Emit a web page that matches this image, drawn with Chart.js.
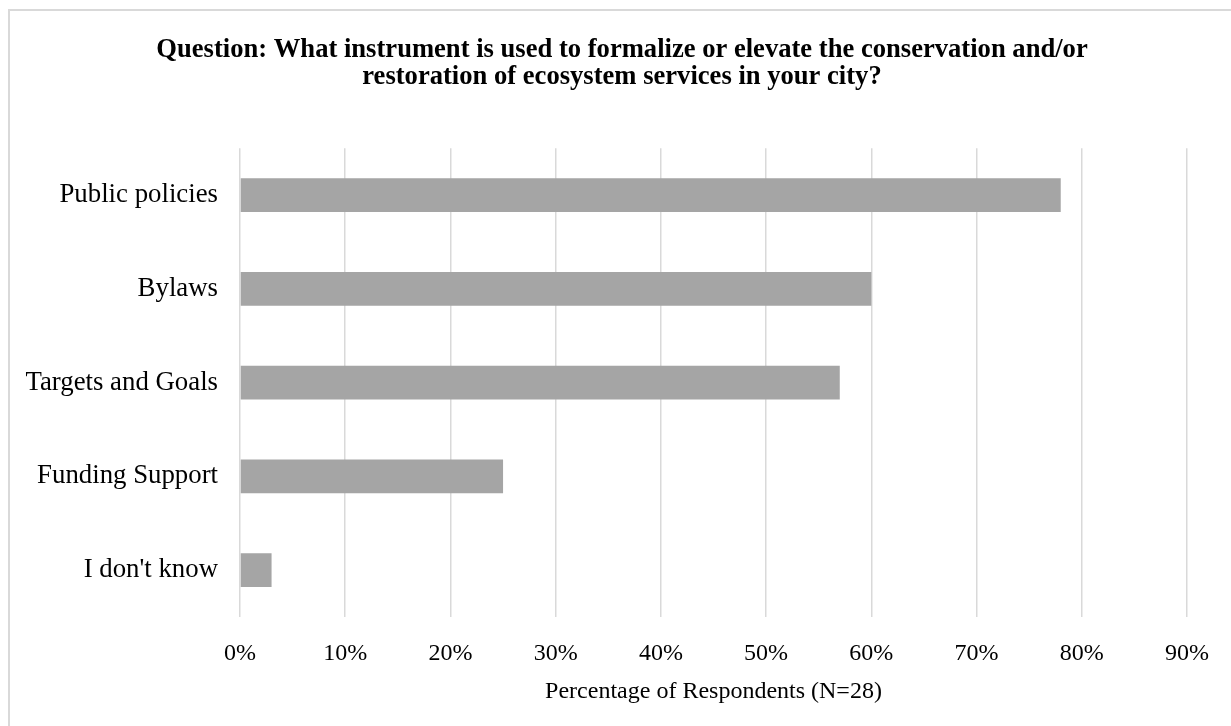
<!DOCTYPE html>
<html>
<head>
<meta charset="utf-8">
<script src="https://cdn.jsdelivr.net/npm/chart.js@4"></script>
<style>
    body { margin: 0; background: #fff; overflow: hidden; }
    #frame { position: absolute; left: 8px; top: 9px; width: 1300px; height: 800px; border: 2px solid #d9d9d9; }
    #wrap { position: absolute; left: 0; top: 0; width: 1231px; height: 726px; }
</style>
</head>
<body>
<div id="frame"></div>
<div id="wrap"><canvas id="surveyChart"></canvas></div>
<script>
const categories = ["Public policies", "Bylaws", "Targets and Goals", "Funding Support", "I don't know"];
const percentages = [78, 60, 57, 25, 3];
const tickValues = [0, 10, 20, 30, 40, 50, 60, 70, 80, 90];

const serif = "'Liberation Serif', 'Times New Roman', serif";

const ctx = document.getElementById('surveyChart').getContext('2d');
const surveyChart = new Chart(ctx, {
    type: 'bar',
    data: {
        labels: categories,
        datasets: [{
            data: percentages,
            backgroundColor: '#a5a5a5',
            barPercentage: 0.72,
            categoryPercentage: 0.5
        }]
    },
    options: {
        indexAxis: 'y',
        responsive: true,
        maintainAspectRatio: false,
        animation: false,
        layout: { padding: { left: 13, right: 0, top: 0, bottom: 0 } },
        plugins: {
            legend: { display: false },
            tooltip: { enabled: false },
            title: {
                display: true,
                text: ["Question: What instrument is used to formalize or elevate the conservation and/or",
                       "restoration of ecosystem services in your city?"],
                color: '#000',
                font: { family: serif, size: 26.6, weight: 'bold', lineHeight: 1.0 },
                padding: { top: 37, bottom: 58 }
            }
        },
        scales: {
            x: {
                min: 0,
                max: 90,
                afterBuildTicks: scale => { scale.ticks = tickValues.map(v => ({ value: v })); },
                afterFit: scale => { scale.height = 109; scale.paddingRight = 44; },
                grid: { color: '#d9d9d9', lineWidth: 1.5, drawTicks: false },
                border: { display: false },
                ticks: {
                    padding: 22,
                    color: '#000',
                    font: { family: serif, size: 24 },
                    maxRotation: 0,
                    callback: v => v + '%'
                },
                title: {
                    display: true,
                    text: 'Percentage of Respondents (N=28)',
                    color: '#000',
                    font: { family: serif, size: 24 },
                    padding: { top: 0, bottom: 20 }
                }
            },
            y: {
                afterFit: scale => { scale.width = 227; },
                grid: { display: false, drawTicks: false },
                border: { display: false },
                ticks: {
                    padding: 22,
                    color: '#000',
                    font: { family: serif, size: 26.8 }
                }
            }
        }
    }
});
</script>
</body>
</html>
